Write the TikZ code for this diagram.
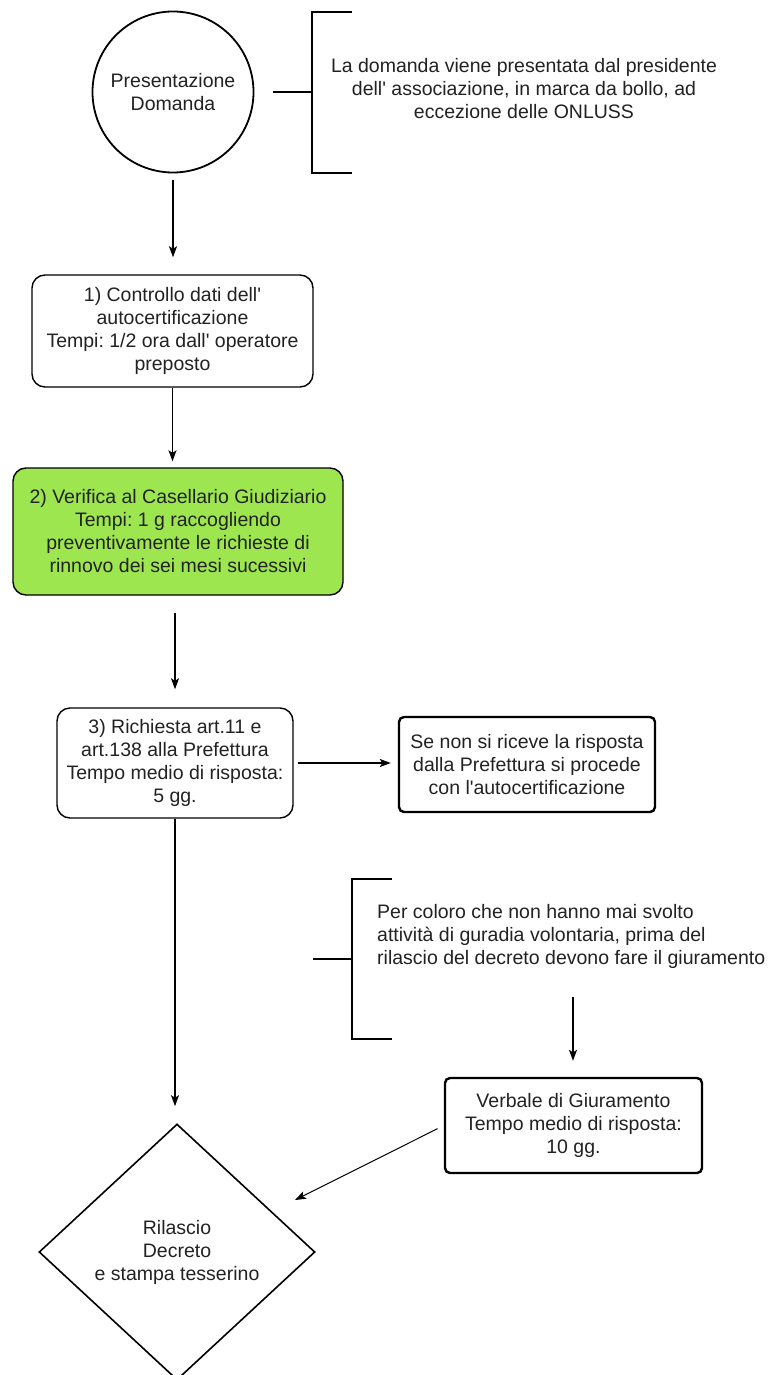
\documentclass[tikz,border=0pt]{standalone}
\usepackage{fontspec}
\newfontfamily\arial{Liberation Sans}
\usetikzlibrary{shapes.geometric,arrows.meta}
\definecolor{txt}{HTML}{222222}
\definecolor{grn}{HTML}{9EE650}
\frenchspacing
\begin{document}
\begin{tikzpicture}[x=1pt,y=-1pt,
  every node/.style={font=\arial\fontsize{19.5}{23}\selectfont, text=txt, align=center},
  rbox/.style={draw, rounded corners=13pt, line width=1.4pt, inner sep=0pt},
  sbox/.style={draw, rounded corners=5pt, line width=2.4pt, inner sep=0pt},
  arr/.style={-{Stealth[length=11pt,width=8pt,inset=2.5pt]}, line width=1.3pt},
  brk/.style={line width=2.4pt}
]
\useasboundingbox (0,0) rectangle (776,1375);
\fill[white] (0,0) rectangle (776,1375);
\clip (0,0) rectangle (776,1375);

\node[circle, draw, line width=1.8pt, minimum size=161pt, inner sep=0pt] (pd) at (173,92) {Presentazione\\Domanda};
\node[inner sep=0pt] (t1) at (524,88.5) {La domanda viene presentata dal presidente\\dell' associazione, in marca da bollo, ad\\eccezione delle ONLUSS};
\coordinate (k1) at (312,92);
\draw[brk] (352,12) -- (312,12) -- (312,173) -- (352,173);
\draw[brk] (273,92) -- (k1);

\node[rbox, minimum width=281pt, minimum height=112pt] (b1) at (172.5,331) {1) Controllo dati dell'\\autocertificazione\\Tempi: 1/2 ora dall' operatore\\preposto};
\node[rbox, fill=grn, minimum width=330pt, minimum height=127pt] (b2) at (178,531.5) {2) Verifica al Casellario Giudiziario\\Tempi: 1 g raccogliendo\\preventivamente le richieste di\\rinnovo dei sei mesi sucessivi};
\node[rbox, minimum width=236pt, minimum height=110pt] (b3) at (175,763) {3) Richiesta art.11 e\\art.138 alla Prefettura\\Tempo medio di risposta:\\5 gg.};
\node[sbox, minimum width=256pt, minimum height=95pt] (b4) at (527,764.5) {Se non si riceve la risposta\\dalla Prefettura si procede\\con l'autocertificazione};

\node[align=left, anchor=west, inner sep=0pt] (t2) at (377,936) {Per coloro che non hanno mai svolto\\attività di guradia volontaria, prima del\\rilascio del decreto devono fare il giuramento};
\coordinate (k2) at (352,959);
\draw[brk] (392,879) -- (352,879) -- (352,1039) -- (392,1039);
\draw[brk] (313,959) -- (k2);

\node[sbox, minimum width=257pt, minimum height=95pt] (b5) at (573.5,1125.5) {Verbale di Giuramento\\Tempo medio di risposta:\\10 gg.};
\node[diamond, draw, line width=1.6pt, minimum width=276pt, minimum height=256pt, inner sep=0pt] (dec) at (177,1252) {Rilascio\\Decreto\\e stampa tesserino};

\coordinate (c2) at (573,997);
\coordinate (d1) at (295,1200);

\draw[arr, shorten <=7pt, shorten >=17pt] (pd.south) -- (pd.south |- b1.north);
\draw[arr, shorten >=6pt] (b1.south) -- (b1.south |- b2.north);
\draw[arr, shorten <=17pt, shorten >=18pt] (b3.north |- b2.south) -- (b3.north);
\draw[arr, shorten <=4pt, shorten >=7pt] (b3.east) -- (b3.east -| b4.west);
\draw[arr, shorten >=17pt] (b3.south) -- (b3.south |- dec.north);
\draw[arr, shorten >=16pt] (c2) -- (c2 |- b5.north);
\draw[-{Stealth[length=11pt,width=8pt,inset=2.5pt]}, line width=1pt, shorten <=7pt] (b5.west) -- (d1);
\end{tikzpicture}
\end{document}
